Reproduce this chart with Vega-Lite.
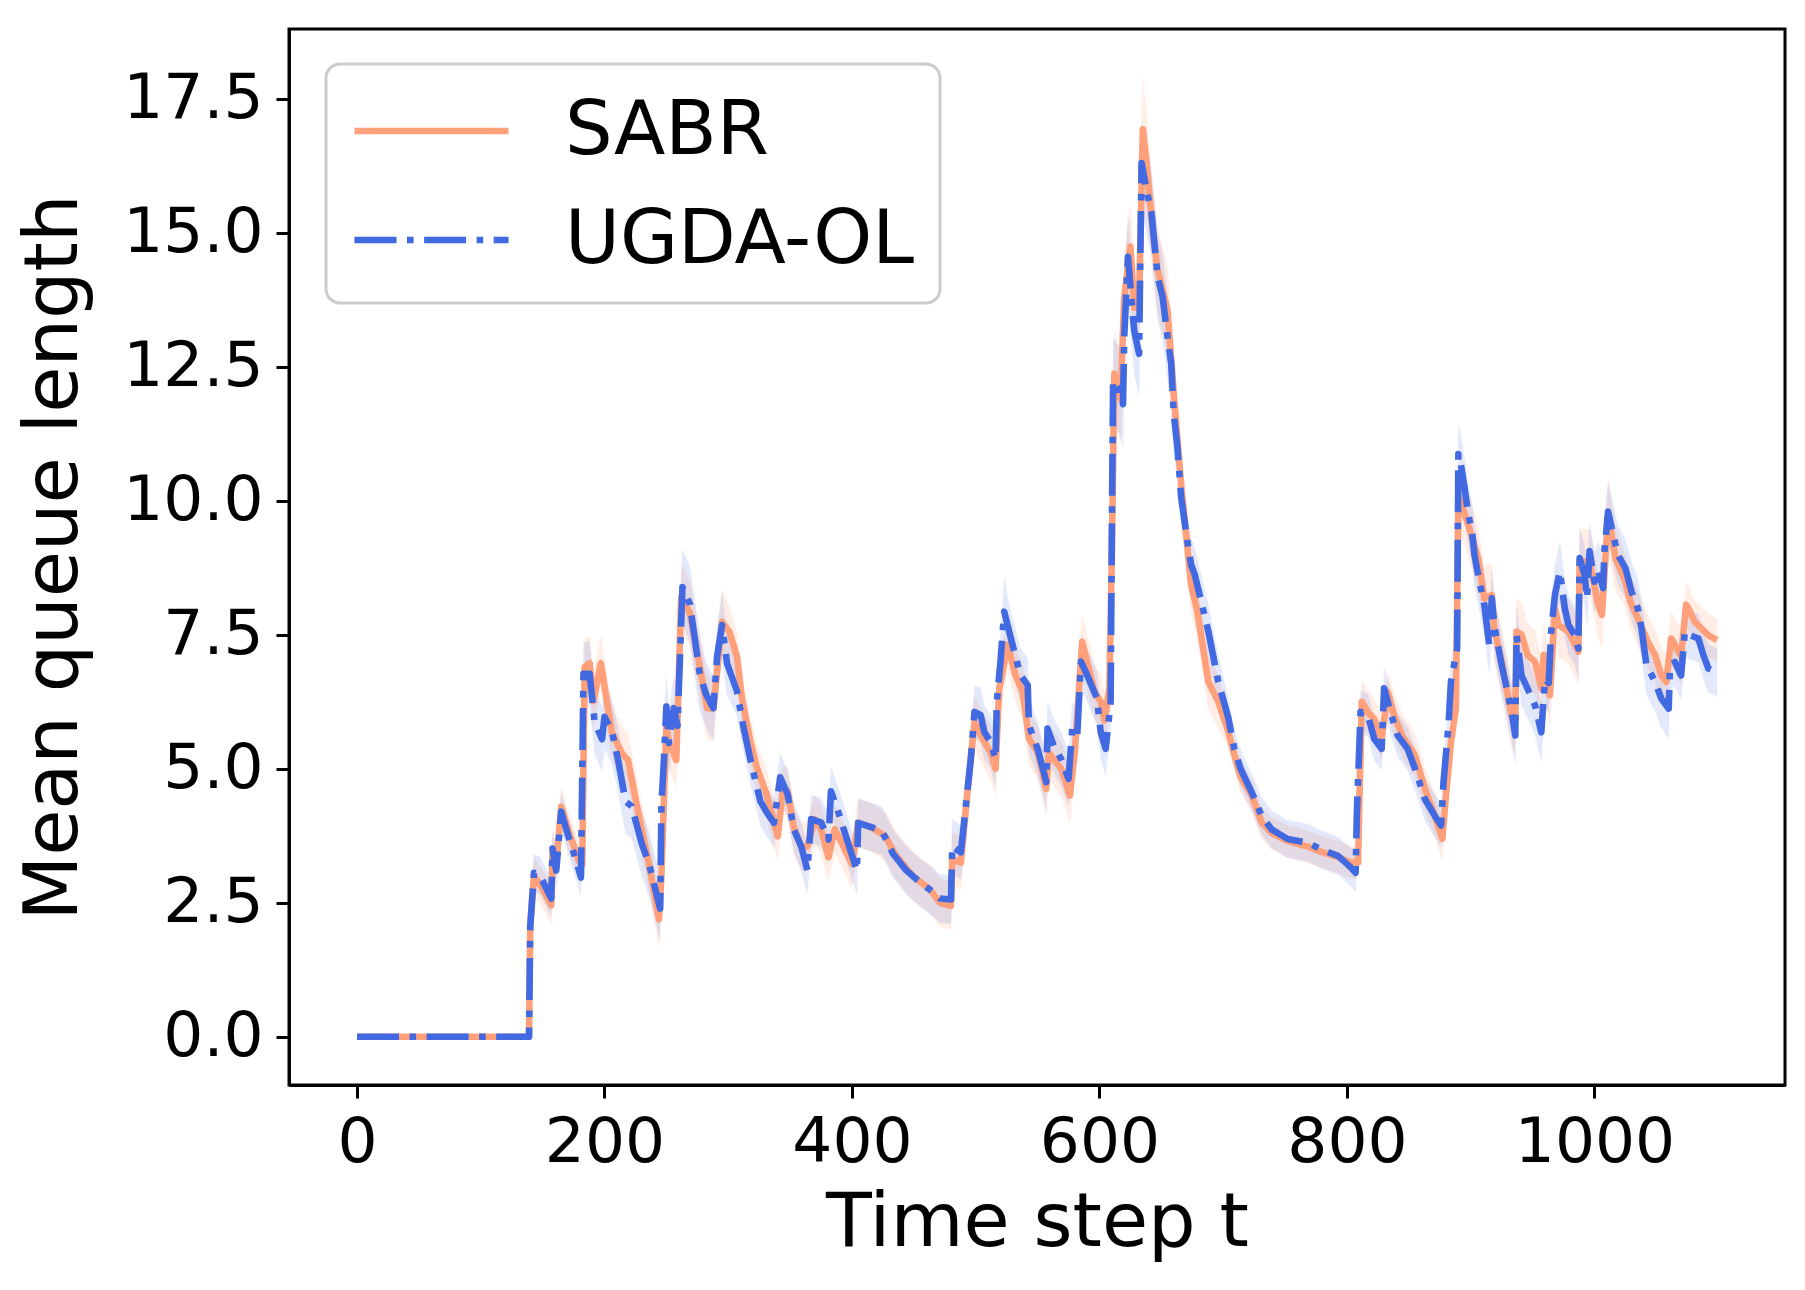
{
  "$schema": "https://vega.github.io/schema/vega-lite/v6.json",
  "description": "Mean queue length over time for SABR and UGDA-OL with shaded spread.",
  "autosize": {"type": "none"},
  "padding": {"left": 289, "top": 29, "right": 20, "bottom": 205},
  "width": 1496,
  "height": 1056,
  "background": "white",
  "data": {
    "values": [
      {"m":"SABR","t":0,"v":0,"lo":0,"hi":0},
      {"m":"SABR","t":139,"v":0,"lo":0,"hi":0},
      {"m":"SABR","t":140,"v":2.06,"lo":1.71,"hi":2.41},
      {"m":"SABR","t":143,"v":3.0,"lo":2.65,"hi":3.35},
      {"m":"SABR","t":149,"v":2.8,"lo":2.45,"hi":3.15},
      {"m":"SABR","t":157,"v":2.45,"lo":2.1,"hi":2.8},
      {"m":"SABR","t":158,"v":3.5,"lo":3.15,"hi":3.85},
      {"m":"SABR","t":161,"v":3.2,"lo":2.85,"hi":3.55},
      {"m":"SABR","t":165,"v":4.29,"lo":3.94,"hi":4.64},
      {"m":"SABR","t":170,"v":3.9,"lo":3.55,"hi":4.25},
      {"m":"SABR","t":179,"v":3.3,"lo":2.95,"hi":3.65},
      {"m":"SABR","t":182,"v":3.2,"lo":2.85,"hi":3.55},
      {"m":"SABR","t":184,"v":6.9,"lo":6.4,"hi":7.4},
      {"m":"SABR","t":188,"v":6.97,"lo":6.47,"hi":7.47},
      {"m":"SABR","t":191,"v":6.26,"lo":5.76,"hi":6.76},
      {"m":"SABR","t":197,"v":6.97,"lo":6.47,"hi":7.47},
      {"m":"SABR","t":206,"v":5.68,"lo":5.18,"hi":6.18},
      {"m":"SABR","t":214,"v":5.29,"lo":4.79,"hi":5.79},
      {"m":"SABR","t":219,"v":5.16,"lo":4.66,"hi":5.66},
      {"m":"SABR","t":225,"v":4.45,"lo":3.95,"hi":4.95},
      {"m":"SABR","t":230,"v":3.87,"lo":3.37,"hi":4.37},
      {"m":"SABR","t":236,"v":3.22,"lo":2.72,"hi":3.72},
      {"m":"SABR","t":244,"v":2.19,"lo":1.69,"hi":2.69},
      {"m":"SABR","t":246,"v":3.0,"lo":2.5,"hi":3.5},
      {"m":"SABR","t":250,"v":5.81,"lo":5.31,"hi":6.31},
      {"m":"SABR","t":252,"v":5.5,"lo":5.0,"hi":6.0},
      {"m":"SABR","t":258,"v":5.16,"lo":4.66,"hi":5.66},
      {"m":"SABR","t":262,"v":8.2,"lo":7.6,"hi":8.8},
      {"m":"SABR","t":269,"v":7.9,"lo":7.3,"hi":8.5},
      {"m":"SABR","t":277,"v":6.9,"lo":6.3,"hi":7.5},
      {"m":"SABR","t":283,"v":6.13,"lo":5.53,"hi":6.73},
      {"m":"SABR","t":288,"v":6.13,"lo":5.53,"hi":6.73},
      {"m":"SABR","t":295,"v":7.74,"lo":7.14,"hi":8.34},
      {"m":"SABR","t":301,"v":7.55,"lo":7.1,"hi":8.0},
      {"m":"SABR","t":307,"v":7.1,"lo":6.65,"hi":7.55},
      {"m":"SABR","t":311,"v":6.32,"lo":5.87,"hi":6.77},
      {"m":"SABR","t":318,"v":5.5,"lo":5.05,"hi":5.95},
      {"m":"SABR","t":323,"v":5.03,"lo":4.58,"hi":5.48},
      {"m":"SABR","t":331,"v":4.52,"lo":4.07,"hi":4.97},
      {"m":"SABR","t":340,"v":3.74,"lo":3.29,"hi":4.19},
      {"m":"SABR","t":344,"v":4.6,"lo":4.15,"hi":5.05},
      {"m":"SABR","t":348,"v":4.58,"lo":4.13,"hi":5.03},
      {"m":"SABR","t":353,"v":3.9,"lo":3.45,"hi":4.35},
      {"m":"SABR","t":359,"v":3.55,"lo":3.1,"hi":4.0},
      {"m":"SABR","t":364,"v":3.55,"lo":3.1,"hi":4.0},
      {"m":"SABR","t":370,"v":4.06,"lo":3.61,"hi":4.51},
      {"m":"SABR","t":375,"v":3.87,"lo":3.42,"hi":4.32},
      {"m":"SABR","t":381,"v":3.35,"lo":2.9,"hi":3.8},
      {"m":"SABR","t":386,"v":3.87,"lo":3.42,"hi":4.32},
      {"m":"SABR","t":389,"v":3.74,"lo":3.29,"hi":4.19},
      {"m":"SABR","t":400,"v":3.22,"lo":2.77,"hi":3.67},
      {"m":"SABR","t":405,"v":3.99,"lo":3.54,"hi":4.44},
      {"m":"SABR","t":416,"v":3.9,"lo":3.45,"hi":4.35},
      {"m":"SABR","t":427,"v":3.74,"lo":3.29,"hi":4.19},
      {"m":"SABR","t":435,"v":3.4,"lo":2.95,"hi":3.85},
      {"m":"SABR","t":449,"v":3.0,"lo":2.55,"hi":3.45},
      {"m":"SABR","t":463,"v":2.75,"lo":2.3,"hi":3.2},
      {"m":"SABR","t":471,"v":2.5,"lo":2.05,"hi":2.95},
      {"m":"SABR","t":480,"v":2.44,"lo":1.99,"hi":2.89},
      {"m":"SABR","t":481,"v":3.31,"lo":2.81,"hi":3.81},
      {"m":"SABR","t":488,"v":3.25,"lo":2.75,"hi":3.75},
      {"m":"SABR","t":493,"v":4.5,"lo":4.0,"hi":5.0},
      {"m":"SABR","t":499,"v":5.87,"lo":5.37,"hi":6.37},
      {"m":"SABR","t":507,"v":5.5,"lo":5.0,"hi":6.0},
      {"m":"SABR","t":512,"v":5.3,"lo":4.8,"hi":5.8},
      {"m":"SABR","t":516,"v":5.0,"lo":4.5,"hi":5.5},
      {"m":"SABR","t":519,"v":6.5,"lo":6.0,"hi":7.0},
      {"m":"SABR","t":526,"v":7.31,"lo":6.81,"hi":7.81},
      {"m":"SABR","t":532,"v":6.75,"lo":6.25,"hi":7.25},
      {"m":"SABR","t":538,"v":6.43,"lo":5.93,"hi":6.93},
      {"m":"SABR","t":543,"v":5.56,"lo":5.06,"hi":6.06},
      {"m":"SABR","t":550,"v":5.31,"lo":4.81,"hi":5.81},
      {"m":"SABR","t":557,"v":4.62,"lo":4.12,"hi":5.12},
      {"m":"SABR","t":559,"v":5.3,"lo":4.8,"hi":5.8},
      {"m":"SABR","t":563,"v":5.18,"lo":4.68,"hi":5.68},
      {"m":"SABR","t":569,"v":5.0,"lo":4.5,"hi":5.5},
      {"m":"SABR","t":576,"v":4.5,"lo":4.0,"hi":5.0},
      {"m":"SABR","t":580,"v":5.3,"lo":4.8,"hi":5.8},
      {"m":"SABR","t":586,"v":7.37,"lo":6.87,"hi":7.87},
      {"m":"SABR","t":596,"v":6.43,"lo":5.93,"hi":6.93},
      {"m":"SABR","t":601,"v":6.25,"lo":5.75,"hi":6.75},
      {"m":"SABR","t":604,"v":5.9,"lo":5.4,"hi":6.4},
      {"m":"SABR","t":608,"v":6.5,"lo":6.0,"hi":7.0},
      {"m":"SABR","t":610,"v":9.0,"lo":8.2,"hi":9.8},
      {"m":"SABR","t":612,"v":12.37,"lo":11.57,"hi":13.17},
      {"m":"SABR","t":617,"v":11.9,"lo":11.1,"hi":12.7},
      {"m":"SABR","t":620,"v":13.8,"lo":13.0,"hi":14.6},
      {"m":"SABR","t":625,"v":14.74,"lo":13.94,"hi":15.54},
      {"m":"SABR","t":628,"v":13.6,"lo":12.8,"hi":14.4},
      {"m":"SABR","t":632,"v":13.68,"lo":12.88,"hi":14.48},
      {"m":"SABR","t":635,"v":16.93,"lo":15.93,"hi":17.93},
      {"m":"SABR","t":638,"v":16.3,"lo":15.4,"hi":17.2},
      {"m":"SABR","t":643,"v":15.05,"lo":14.25,"hi":15.85},
      {"m":"SABR","t":647,"v":14.3,"lo":13.5,"hi":15.1},
      {"m":"SABR","t":655,"v":13.55,"lo":12.75,"hi":14.35},
      {"m":"SABR","t":660,"v":12.0,"lo":11.2,"hi":12.8},
      {"m":"SABR","t":666,"v":10.3,"lo":9.8,"hi":10.8},
      {"m":"SABR","t":674,"v":8.43,"lo":7.93,"hi":8.93},
      {"m":"SABR","t":679,"v":7.94,"lo":7.44,"hi":8.44},
      {"m":"SABR","t":688,"v":6.62,"lo":6.12,"hi":7.12},
      {"m":"SABR","t":696,"v":6.25,"lo":5.75,"hi":6.75},
      {"m":"SABR","t":704,"v":5.7,"lo":5.4,"hi":6.0},
      {"m":"SABR","t":709,"v":5.25,"lo":4.95,"hi":5.55},
      {"m":"SABR","t":714,"v":4.85,"lo":4.55,"hi":5.15},
      {"m":"SABR","t":723,"v":4.5,"lo":4.2,"hi":4.8},
      {"m":"SABR","t":731,"v":4.0,"lo":3.7,"hi":4.3},
      {"m":"SABR","t":739,"v":3.8,"lo":3.5,"hi":4.1},
      {"m":"SABR","t":752,"v":3.65,"lo":3.35,"hi":3.95},
      {"m":"SABR","t":768,"v":3.55,"lo":3.25,"hi":3.85},
      {"m":"SABR","t":779,"v":3.45,"lo":3.15,"hi":3.75},
      {"m":"SABR","t":793,"v":3.35,"lo":3.05,"hi":3.65},
      {"m":"SABR","t":803,"v":3.25,"lo":2.95,"hi":3.55},
      {"m":"SABR","t":809,"v":3.25,"lo":2.95,"hi":3.55},
      {"m":"SABR","t":810,"v":4.4,"lo":4.1,"hi":4.7},
      {"m":"SABR","t":812,"v":6.25,"lo":5.85,"hi":6.65},
      {"m":"SABR","t":817,"v":6.05,"lo":5.65,"hi":6.45},
      {"m":"SABR","t":822,"v":5.93,"lo":5.53,"hi":6.33},
      {"m":"SABR","t":828,"v":5.55,"lo":5.15,"hi":5.95},
      {"m":"SABR","t":833,"v":6.43,"lo":6.03,"hi":6.83},
      {"m":"SABR","t":838,"v":6.0,"lo":5.6,"hi":6.4},
      {"m":"SABR","t":845,"v":5.6,"lo":5.2,"hi":6.0},
      {"m":"SABR","t":855,"v":5.25,"lo":4.85,"hi":5.65},
      {"m":"SABR","t":863,"v":4.62,"lo":4.22,"hi":5.02},
      {"m":"SABR","t":871,"v":4.12,"lo":3.72,"hi":4.52},
      {"m":"SABR","t":877,"v":3.69,"lo":3.29,"hi":4.09},
      {"m":"SABR","t":880,"v":4.5,"lo":4.1,"hi":4.9},
      {"m":"SABR","t":884,"v":5.5,"lo":5.1,"hi":5.9},
      {"m":"SABR","t":888,"v":6.12,"lo":5.72,"hi":6.52},
      {"m":"SABR","t":890,"v":10.1,"lo":9.5,"hi":10.7},
      {"m":"SABR","t":898,"v":9.55,"lo":8.95,"hi":10.15},
      {"m":"SABR","t":906,"v":8.93,"lo":8.33,"hi":9.53},
      {"m":"SABR","t":911,"v":8.18,"lo":7.58,"hi":8.78},
      {"m":"SABR","t":917,"v":8.24,"lo":7.64,"hi":8.84},
      {"m":"SABR","t":919,"v":7.6,"lo":7.0,"hi":8.2},
      {"m":"SABR","t":925,"v":7.0,"lo":6.4,"hi":7.6},
      {"m":"SABR","t":933,"v":5.99,"lo":5.39,"hi":6.59},
      {"m":"SABR","t":936,"v":5.9,"lo":5.3,"hi":6.5},
      {"m":"SABR","t":937,"v":7.56,"lo":6.96,"hi":8.16},
      {"m":"SABR","t":941,"v":7.5,"lo":6.9,"hi":8.1},
      {"m":"SABR","t":946,"v":7.12,"lo":6.52,"hi":7.72},
      {"m":"SABR","t":952,"v":6.99,"lo":6.39,"hi":7.59},
      {"m":"SABR","t":957,"v":6.5,"lo":5.9,"hi":7.1},
      {"m":"SABR","t":959,"v":7.12,"lo":6.52,"hi":7.72},
      {"m":"SABR","t":964,"v":6.37,"lo":5.77,"hi":6.97},
      {"m":"SABR","t":968,"v":7.99,"lo":7.39,"hi":8.59},
      {"m":"SABR","t":971,"v":7.68,"lo":7.08,"hi":8.28},
      {"m":"SABR","t":979,"v":7.56,"lo":6.96,"hi":8.16},
      {"m":"SABR","t":987,"v":7.18,"lo":6.58,"hi":7.78},
      {"m":"SABR","t":988,"v":8.87,"lo":8.27,"hi":9.47},
      {"m":"SABR","t":996,"v":8.87,"lo":8.27,"hi":9.47},
      {"m":"SABR","t":1003,"v":8.06,"lo":7.46,"hi":8.66},
      {"m":"SABR","t":1006,"v":7.87,"lo":7.27,"hi":8.47},
      {"m":"SABR","t":1011,"v":9.74,"lo":9.04,"hi":10.44},
      {"m":"SABR","t":1017,"v":8.93,"lo":8.33,"hi":9.53},
      {"m":"SABR","t":1025,"v":8.49,"lo":7.99,"hi":8.99},
      {"m":"SABR","t":1029,"v":8.12,"lo":7.62,"hi":8.62},
      {"m":"SABR","t":1035,"v":7.81,"lo":7.31,"hi":8.31},
      {"m":"SABR","t":1043,"v":7.37,"lo":6.87,"hi":7.87},
      {"m":"SABR","t":1049,"v":7.12,"lo":6.62,"hi":7.62},
      {"m":"SABR","t":1054,"v":6.74,"lo":6.24,"hi":7.24},
      {"m":"SABR","t":1058,"v":6.62,"lo":6.12,"hi":7.12},
      {"m":"SABR","t":1062,"v":7.43,"lo":6.93,"hi":7.93},
      {"m":"SABR","t":1068,"v":7.18,"lo":6.68,"hi":7.68},
      {"m":"SABR","t":1070,"v":7.1,"lo":6.6,"hi":7.6},
      {"m":"SABR","t":1074,"v":8.06,"lo":7.66,"hi":8.46},
      {"m":"SABR","t":1076,"v":7.99,"lo":7.59,"hi":8.39},
      {"m":"SABR","t":1081,"v":7.74,"lo":7.34,"hi":8.14},
      {"m":"SABR","t":1092,"v":7.49,"lo":7.09,"hi":7.89},
      {"m":"SABR","t":1099,"v":7.4,"lo":7.0,"hi":7.8},
      {"m":"UGDA-OL","t":0,"v":0,"lo":0,"hi":0},
      {"m":"UGDA-OL","t":139,"v":0,"lo":0,"hi":0},
      {"m":"UGDA-OL","t":140,"v":2.06,"lo":1.71,"hi":2.41},
      {"m":"UGDA-OL","t":143,"v":3.06,"lo":2.71,"hi":3.41},
      {"m":"UGDA-OL","t":148,"v":3.0,"lo":2.65,"hi":3.35},
      {"m":"UGDA-OL","t":157,"v":2.58,"lo":2.23,"hi":2.93},
      {"m":"UGDA-OL","t":158,"v":3.51,"lo":3.16,"hi":3.86},
      {"m":"UGDA-OL","t":161,"v":3.1,"lo":2.75,"hi":3.45},
      {"m":"UGDA-OL","t":165,"v":4.2,"lo":3.85,"hi":4.55},
      {"m":"UGDA-OL","t":170,"v":3.8,"lo":3.45,"hi":4.15},
      {"m":"UGDA-OL","t":178,"v":3.22,"lo":2.87,"hi":3.57},
      {"m":"UGDA-OL","t":181,"v":2.97,"lo":2.62,"hi":3.32},
      {"m":"UGDA-OL","t":183,"v":6.77,"lo":6.17,"hi":7.37},
      {"m":"UGDA-OL","t":188,"v":6.77,"lo":6.17,"hi":7.37},
      {"m":"UGDA-OL","t":192,"v":5.87,"lo":5.27,"hi":6.47},
      {"m":"UGDA-OL","t":198,"v":5.55,"lo":4.95,"hi":6.15},
      {"m":"UGDA-OL","t":200,"v":5.97,"lo":5.37,"hi":6.57},
      {"m":"UGDA-OL","t":206,"v":5.7,"lo":5.1,"hi":6.3},
      {"m":"UGDA-OL","t":211,"v":5.16,"lo":4.56,"hi":5.76},
      {"m":"UGDA-OL","t":217,"v":4.39,"lo":3.79,"hi":4.99},
      {"m":"UGDA-OL","t":222,"v":4.3,"lo":3.7,"hi":4.9},
      {"m":"UGDA-OL","t":230,"v":3.61,"lo":3.01,"hi":4.21},
      {"m":"UGDA-OL","t":236,"v":3.22,"lo":2.62,"hi":3.82},
      {"m":"UGDA-OL","t":245,"v":2.39,"lo":1.79,"hi":2.99},
      {"m":"UGDA-OL","t":246,"v":4.32,"lo":3.72,"hi":4.92},
      {"m":"UGDA-OL","t":248,"v":5.16,"lo":4.56,"hi":5.76},
      {"m":"UGDA-OL","t":250,"v":6.16,"lo":5.56,"hi":6.76},
      {"m":"UGDA-OL","t":252,"v":5.48,"lo":4.88,"hi":6.08},
      {"m":"UGDA-OL","t":256,"v":6.13,"lo":5.53,"hi":6.73},
      {"m":"UGDA-OL","t":259,"v":5.8,"lo":5.2,"hi":6.4},
      {"m":"UGDA-OL","t":263,"v":8.39,"lo":7.69,"hi":9.09},
      {"m":"UGDA-OL","t":269,"v":8.07,"lo":7.37,"hi":8.77},
      {"m":"UGDA-OL","t":273,"v":7.42,"lo":6.72,"hi":8.12},
      {"m":"UGDA-OL","t":277,"v":6.77,"lo":6.07,"hi":7.47},
      {"m":"UGDA-OL","t":282,"v":6.39,"lo":5.79,"hi":6.99},
      {"m":"UGDA-OL","t":288,"v":6.13,"lo":5.53,"hi":6.73},
      {"m":"UGDA-OL","t":291,"v":7.1,"lo":6.5,"hi":7.7},
      {"m":"UGDA-OL","t":295,"v":7.68,"lo":7.08,"hi":8.28},
      {"m":"UGDA-OL","t":299,"v":6.97,"lo":6.37,"hi":7.57},
      {"m":"UGDA-OL","t":307,"v":6.45,"lo":6.0,"hi":6.9},
      {"m":"UGDA-OL","t":312,"v":5.81,"lo":5.36,"hi":6.26},
      {"m":"UGDA-OL","t":318,"v":5.16,"lo":4.71,"hi":5.61},
      {"m":"UGDA-OL","t":326,"v":4.39,"lo":3.94,"hi":4.84},
      {"m":"UGDA-OL","t":331,"v":4.19,"lo":3.74,"hi":4.64},
      {"m":"UGDA-OL","t":337,"v":3.99,"lo":3.54,"hi":4.44},
      {"m":"UGDA-OL","t":342,"v":4.84,"lo":4.39,"hi":5.29},
      {"m":"UGDA-OL","t":348,"v":4.52,"lo":4.07,"hi":4.97},
      {"m":"UGDA-OL","t":353,"v":3.87,"lo":3.42,"hi":4.32},
      {"m":"UGDA-OL","t":359,"v":3.55,"lo":3.1,"hi":4.0},
      {"m":"UGDA-OL","t":364,"v":3.1,"lo":2.65,"hi":3.55},
      {"m":"UGDA-OL","t":367,"v":4.06,"lo":3.61,"hi":4.51},
      {"m":"UGDA-OL","t":375,"v":4.0,"lo":3.55,"hi":4.45},
      {"m":"UGDA-OL","t":381,"v":3.68,"lo":3.23,"hi":4.13},
      {"m":"UGDA-OL","t":383,"v":4.58,"lo":4.13,"hi":5.03},
      {"m":"UGDA-OL","t":389,"v":4.19,"lo":3.74,"hi":4.64},
      {"m":"UGDA-OL","t":397,"v":3.6,"lo":3.15,"hi":4.05},
      {"m":"UGDA-OL","t":404,"v":3.1,"lo":2.65,"hi":3.55},
      {"m":"UGDA-OL","t":405,"v":3.99,"lo":3.54,"hi":4.44},
      {"m":"UGDA-OL","t":424,"v":3.85,"lo":3.4,"hi":4.3},
      {"m":"UGDA-OL","t":433,"v":3.42,"lo":2.97,"hi":3.87},
      {"m":"UGDA-OL","t":444,"v":3.1,"lo":2.65,"hi":3.55},
      {"m":"UGDA-OL","t":457,"v":2.84,"lo":2.39,"hi":3.29},
      {"m":"UGDA-OL","t":465,"v":2.71,"lo":2.26,"hi":3.16},
      {"m":"UGDA-OL","t":471,"v":2.58,"lo":2.13,"hi":3.03},
      {"m":"UGDA-OL","t":480,"v":2.56,"lo":2.11,"hi":3.01},
      {"m":"UGDA-OL","t":481,"v":3.56,"lo":3.06,"hi":4.06},
      {"m":"UGDA-OL","t":488,"v":3.44,"lo":2.94,"hi":3.94},
      {"m":"UGDA-OL","t":492,"v":4.31,"lo":3.81,"hi":4.81},
      {"m":"UGDA-OL","t":496,"v":5.18,"lo":4.68,"hi":5.68},
      {"m":"UGDA-OL","t":499,"v":6.06,"lo":5.56,"hi":6.56},
      {"m":"UGDA-OL","t":504,"v":6.0,"lo":5.5,"hi":6.5},
      {"m":"UGDA-OL","t":507,"v":5.68,"lo":5.18,"hi":6.18},
      {"m":"UGDA-OL","t":512,"v":5.5,"lo":5.0,"hi":6.0},
      {"m":"UGDA-OL","t":516,"v":5.18,"lo":4.68,"hi":5.68},
      {"m":"UGDA-OL","t":517,"v":6.25,"lo":5.75,"hi":6.75},
      {"m":"UGDA-OL","t":520,"v":7.0,"lo":6.5,"hi":7.5},
      {"m":"UGDA-OL","t":523,"v":7.93,"lo":7.28,"hi":8.58},
      {"m":"UGDA-OL","t":527,"v":7.56,"lo":7.06,"hi":8.06},
      {"m":"UGDA-OL","t":531,"v":7.2,"lo":6.7,"hi":7.7},
      {"m":"UGDA-OL","t":536,"v":6.75,"lo":6.25,"hi":7.25},
      {"m":"UGDA-OL","t":542,"v":6.56,"lo":6.06,"hi":7.06},
      {"m":"UGDA-OL","t":543,"v":5.81,"lo":5.31,"hi":6.31},
      {"m":"UGDA-OL","t":550,"v":5.37,"lo":4.87,"hi":5.87},
      {"m":"UGDA-OL","t":555,"v":4.93,"lo":4.43,"hi":5.43},
      {"m":"UGDA-OL","t":557,"v":4.75,"lo":4.25,"hi":5.25},
      {"m":"UGDA-OL","t":558,"v":5.75,"lo":5.25,"hi":6.25},
      {"m":"UGDA-OL","t":563,"v":5.43,"lo":4.93,"hi":5.93},
      {"m":"UGDA-OL","t":569,"v":5.18,"lo":4.68,"hi":5.68},
      {"m":"UGDA-OL","t":575,"v":4.81,"lo":4.31,"hi":5.31},
      {"m":"UGDA-OL","t":578,"v":5.75,"lo":5.25,"hi":6.25},
      {"m":"UGDA-OL","t":582,"v":5.62,"lo":5.12,"hi":6.12},
      {"m":"UGDA-OL","t":585,"v":7.0,"lo":6.5,"hi":7.5},
      {"m":"UGDA-OL","t":590,"v":6.75,"lo":6.25,"hi":7.25},
      {"m":"UGDA-OL","t":598,"v":6.31,"lo":5.81,"hi":6.81},
      {"m":"UGDA-OL","t":601,"v":5.68,"lo":5.18,"hi":6.18},
      {"m":"UGDA-OL","t":605,"v":5.37,"lo":4.87,"hi":5.87},
      {"m":"UGDA-OL","t":609,"v":6.25,"lo":5.75,"hi":6.75},
      {"m":"UGDA-OL","t":610,"v":9.5,"lo":8.7,"hi":10.3},
      {"m":"UGDA-OL","t":611,"v":12.24,"lo":11.44,"hi":13.04},
      {"m":"UGDA-OL","t":616,"v":12.06,"lo":11.26,"hi":12.86},
      {"m":"UGDA-OL","t":619,"v":11.8,"lo":11.0,"hi":12.6},
      {"m":"UGDA-OL","t":620,"v":13.06,"lo":12.26,"hi":13.86},
      {"m":"UGDA-OL","t":623,"v":14.55,"lo":13.75,"hi":15.35},
      {"m":"UGDA-OL","t":625,"v":14.0,"lo":13.2,"hi":14.8},
      {"m":"UGDA-OL","t":628,"v":13.18,"lo":12.38,"hi":13.98},
      {"m":"UGDA-OL","t":632,"v":12.74,"lo":11.94,"hi":13.54},
      {"m":"UGDA-OL","t":634,"v":16.3,"lo":15.5,"hi":17.1},
      {"m":"UGDA-OL","t":638,"v":15.8,"lo":15.0,"hi":16.6},
      {"m":"UGDA-OL","t":642,"v":15.37,"lo":14.57,"hi":16.17},
      {"m":"UGDA-OL","t":647,"v":14.18,"lo":13.38,"hi":14.98},
      {"m":"UGDA-OL","t":651,"v":13.8,"lo":13.0,"hi":14.6},
      {"m":"UGDA-OL","t":655,"v":13.06,"lo":12.26,"hi":13.86},
      {"m":"UGDA-OL","t":658,"v":12.55,"lo":11.75,"hi":13.35},
      {"m":"UGDA-OL","t":660,"v":11.62,"lo":10.82,"hi":12.42},
      {"m":"UGDA-OL","t":663,"v":11.0,"lo":10.5,"hi":11.5},
      {"m":"UGDA-OL","t":666,"v":10.06,"lo":9.56,"hi":10.56},
      {"m":"UGDA-OL","t":671,"v":9.25,"lo":8.75,"hi":9.75},
      {"m":"UGDA-OL","t":674,"v":8.81,"lo":8.31,"hi":9.31},
      {"m":"UGDA-OL","t":677,"v":8.62,"lo":8.12,"hi":9.12},
      {"m":"UGDA-OL","t":688,"v":7.56,"lo":7.06,"hi":8.06},
      {"m":"UGDA-OL","t":696,"v":6.62,"lo":6.12,"hi":7.12},
      {"m":"UGDA-OL","t":704,"v":5.96,"lo":5.61,"hi":6.31},
      {"m":"UGDA-OL","t":709,"v":5.37,"lo":5.02,"hi":5.72},
      {"m":"UGDA-OL","t":714,"v":5.0,"lo":4.65,"hi":5.35},
      {"m":"UGDA-OL","t":723,"v":4.56,"lo":4.21,"hi":4.91},
      {"m":"UGDA-OL","t":731,"v":4.12,"lo":3.77,"hi":4.47},
      {"m":"UGDA-OL","t":739,"v":3.87,"lo":3.52,"hi":4.22},
      {"m":"UGDA-OL","t":752,"v":3.69,"lo":3.34,"hi":4.04},
      {"m":"UGDA-OL","t":768,"v":3.62,"lo":3.27,"hi":3.97},
      {"m":"UGDA-OL","t":779,"v":3.5,"lo":3.15,"hi":3.85},
      {"m":"UGDA-OL","t":793,"v":3.37,"lo":3.02,"hi":3.72},
      {"m":"UGDA-OL","t":803,"v":3.16,"lo":2.81,"hi":3.51},
      {"m":"UGDA-OL","t":807,"v":3.06,"lo":2.71,"hi":3.41},
      {"m":"UGDA-OL","t":808,"v":4.19,"lo":3.79,"hi":4.59},
      {"m":"UGDA-OL","t":811,"v":6.06,"lo":5.66,"hi":6.46},
      {"m":"UGDA-OL","t":817,"v":5.99,"lo":5.59,"hi":6.39},
      {"m":"UGDA-OL","t":822,"v":5.56,"lo":5.16,"hi":5.96},
      {"m":"UGDA-OL","t":828,"v":5.37,"lo":4.97,"hi":5.77},
      {"m":"UGDA-OL","t":830,"v":6.5,"lo":6.1,"hi":6.9},
      {"m":"UGDA-OL","t":836,"v":5.99,"lo":5.59,"hi":6.39},
      {"m":"UGDA-OL","t":841,"v":5.62,"lo":5.22,"hi":6.02},
      {"m":"UGDA-OL","t":849,"v":5.37,"lo":4.97,"hi":5.77},
      {"m":"UGDA-OL","t":855,"v":5.0,"lo":4.6,"hi":5.4},
      {"m":"UGDA-OL","t":863,"v":4.43,"lo":4.03,"hi":4.83},
      {"m":"UGDA-OL","t":871,"v":4.12,"lo":3.72,"hi":4.52},
      {"m":"UGDA-OL","t":876,"v":3.94,"lo":3.54,"hi":4.34},
      {"m":"UGDA-OL","t":878,"v":4.75,"lo":4.35,"hi":5.15},
      {"m":"UGDA-OL","t":882,"v":5.81,"lo":5.41,"hi":6.21},
      {"m":"UGDA-OL","t":884,"v":6.62,"lo":6.22,"hi":7.02},
      {"m":"UGDA-OL","t":889,"v":7.24,"lo":6.84,"hi":7.64},
      {"m":"UGDA-OL","t":890,"v":10.87,"lo":10.32,"hi":11.42},
      {"m":"UGDA-OL","t":892,"v":10.68,"lo":10.13,"hi":11.23},
      {"m":"UGDA-OL","t":895,"v":10.24,"lo":9.69,"hi":10.79},
      {"m":"UGDA-OL","t":898,"v":9.74,"lo":9.19,"hi":10.29},
      {"m":"UGDA-OL","t":901,"v":9.43,"lo":8.88,"hi":9.98},
      {"m":"UGDA-OL","t":903,"v":8.99,"lo":8.44,"hi":9.54},
      {"m":"UGDA-OL","t":907,"v":8.49,"lo":7.94,"hi":9.04},
      {"m":"UGDA-OL","t":911,"v":8.06,"lo":7.51,"hi":8.61},
      {"m":"UGDA-OL","t":914,"v":7.49,"lo":6.94,"hi":8.04},
      {"m":"UGDA-OL","t":915,"v":7.3,"lo":6.75,"hi":7.85},
      {"m":"UGDA-OL","t":917,"v":8.18,"lo":7.63,"hi":8.73},
      {"m":"UGDA-OL","t":919,"v":7.68,"lo":7.13,"hi":8.23},
      {"m":"UGDA-OL","t":925,"v":6.93,"lo":6.38,"hi":7.48},
      {"m":"UGDA-OL","t":928,"v":6.62,"lo":6.07,"hi":7.17},
      {"m":"UGDA-OL","t":933,"v":6.06,"lo":5.51,"hi":6.61},
      {"m":"UGDA-OL","t":936,"v":5.62,"lo":5.07,"hi":6.17},
      {"m":"UGDA-OL","t":937,"v":7.49,"lo":6.94,"hi":8.04},
      {"m":"UGDA-OL","t":941,"v":6.74,"lo":6.19,"hi":7.29},
      {"m":"UGDA-OL","t":946,"v":6.49,"lo":5.94,"hi":7.04},
      {"m":"UGDA-OL","t":952,"v":6.18,"lo":5.63,"hi":6.73},
      {"m":"UGDA-OL","t":957,"v":5.68,"lo":5.13,"hi":6.23},
      {"m":"UGDA-OL","t":960,"v":6.68,"lo":6.13,"hi":7.23},
      {"m":"UGDA-OL","t":963,"v":6.6,"lo":6.05,"hi":7.15},
      {"m":"UGDA-OL","t":965,"v":7.56,"lo":7.01,"hi":8.11},
      {"m":"UGDA-OL","t":968,"v":8.24,"lo":7.69,"hi":8.79},
      {"m":"UGDA-OL","t":972,"v":8.68,"lo":8.13,"hi":9.23},
      {"m":"UGDA-OL","t":976,"v":7.99,"lo":7.44,"hi":8.54},
      {"m":"UGDA-OL","t":979,"v":7.68,"lo":7.13,"hi":8.23},
      {"m":"UGDA-OL","t":984,"v":7.49,"lo":6.94,"hi":8.04},
      {"m":"UGDA-OL","t":987,"v":7.24,"lo":6.69,"hi":7.79},
      {"m":"UGDA-OL","t":988,"v":8.93,"lo":8.38,"hi":9.48},
      {"m":"UGDA-OL","t":992,"v":8.62,"lo":8.07,"hi":9.17},
      {"m":"UGDA-OL","t":994,"v":8.18,"lo":7.63,"hi":8.73},
      {"m":"UGDA-OL","t":996,"v":9.06,"lo":8.51,"hi":9.61},
      {"m":"UGDA-OL","t":1000,"v":8.49,"lo":7.94,"hi":9.04},
      {"m":"UGDA-OL","t":1003,"v":8.68,"lo":8.13,"hi":9.23},
      {"m":"UGDA-OL","t":1007,"v":8.37,"lo":7.82,"hi":8.92},
      {"m":"UGDA-OL","t":1008,"v":9.06,"lo":8.51,"hi":9.61},
      {"m":"UGDA-OL","t":1011,"v":9.8,"lo":9.25,"hi":10.35},
      {"m":"UGDA-OL","t":1015,"v":9.37,"lo":8.82,"hi":9.92},
      {"m":"UGDA-OL","t":1019,"v":8.99,"lo":8.44,"hi":9.54},
      {"m":"UGDA-OL","t":1025,"v":8.74,"lo":8.19,"hi":9.29},
      {"m":"UGDA-OL","t":1030,"v":8.3,"lo":7.75,"hi":8.85},
      {"m":"UGDA-OL","t":1035,"v":7.99,"lo":7.44,"hi":8.54},
      {"m":"UGDA-OL","t":1038,"v":7.62,"lo":7.07,"hi":8.17},
      {"m":"UGDA-OL","t":1042,"v":6.93,"lo":6.38,"hi":7.48},
      {"m":"UGDA-OL","t":1049,"v":6.62,"lo":6.07,"hi":7.17},
      {"m":"UGDA-OL","t":1054,"v":6.31,"lo":5.76,"hi":6.86},
      {"m":"UGDA-OL","t":1060,"v":6.12,"lo":5.57,"hi":6.67},
      {"m":"UGDA-OL","t":1061,"v":6.93,"lo":6.48,"hi":7.38},
      {"m":"UGDA-OL","t":1065,"v":6.99,"lo":6.54,"hi":7.44},
      {"m":"UGDA-OL","t":1070,"v":6.74,"lo":6.29,"hi":7.19},
      {"m":"UGDA-OL","t":1073,"v":7.56,"lo":7.11,"hi":8.01},
      {"m":"UGDA-OL","t":1076,"v":7.5,"lo":7.05,"hi":7.95},
      {"m":"UGDA-OL","t":1084,"v":7.43,"lo":6.98,"hi":7.88},
      {"m":"UGDA-OL","t":1088,"v":7.12,"lo":6.67,"hi":7.57},
      {"m":"UGDA-OL","t":1092,"v":6.87,"lo":6.42,"hi":7.32},
      {"m":"UGDA-OL","t":1099,"v":6.8,"lo":6.35,"hi":7.25}
    ]
  },
  "encoding": {
    "x": {
      "field": "t",
      "type": "quantitative",
      "title": "Time step t",
      "scale": {"domain": [-54.95, 1153.95], "nice": false, "zero": false},
      "axis": {"values": [0, 200, 400, 600, 800, 1000], "format": "d", "titlePadding": 12}
    }
  },
  "layer": [
    {
      "transform": [{"filter": "datum.m === 'SABR'"}],
      "mark": {"type": "area", "color": "#FFA07A", "opacity": 0.18, "stroke": "#FFA07A", "strokeWidth": 2.5, "strokeOpacity": 0.12},
      "encoding": {
        "y": {"field": "lo", "type": "quantitative"},
        "y2": {"field": "hi"}
      }
    },
    {
      "transform": [{"filter": "datum.m === 'UGDA-OL'"}],
      "mark": {"type": "area", "color": "#4169E1", "opacity": 0.14, "stroke": "#4169E1", "strokeWidth": 2.5, "strokeOpacity": 0.1},
      "encoding": {
        "y": {"field": "lo", "type": "quantitative"},
        "y2": {"field": "hi"}
      }
    },
    {
      "mark": {"type": "line", "strokeWidth": 6.6, "strokeCap": "butt", "strokeJoin": "round"},
      "encoding": {
        "y": {
          "field": "v",
          "type": "quantitative",
          "title": "Mean queue length",
          "scale": {"domain": [-0.9, 18.8], "nice": false, "zero": false},
          "axis": {"values": [0, 2.5, 5, 7.5, 10, 12.5, 15, 17.5], "format": ".1f", "titlePadding": 30}
        },
        "color": {
          "field": "m",
          "type": "nominal",
          "title": null,
          "scale": {"domain": ["SABR", "UGDA-OL"], "range": ["#FFA07A", "#4169E1"]},
          "legend": {
            "orient": "none",
            "legendX": 37,
            "legendY": 35,
            "padding": 25,
            "fillColor": "rgba(255,255,255,0.8)",
            "strokeColor": "#cccccc",
            "cornerRadius": 14,
            "symbolType": "M-1,0H3",
            "symbolSize": 5929,
            "symbolStrokeWidth": 6.6,
            "labelFont": "DejaVu Sans",
            "labelFontSize": 75,
            "labelColor": "black",
            "labelOffset": 130,
            "labelLimit": 800,
            "rowPadding": 29
          }
        },
        "strokeDash": {
          "field": "m",
          "type": "nominal",
          "title": null,
          "scale": {"domain": ["SABR", "UGDA-OL"], "range": [[1, 0], [42, 10.5, 6.6, 10.5]]}
        }
      }
    }
  ],
  "config": {
    "font": "DejaVu Sans",
    "view": {"stroke": "black", "strokeWidth": 3},
    "axis": {
      "grid": false,
      "domainColor": "black",
      "domainWidth": 3,
      "tickColor": "black",
      "tickWidth": 3,
      "tickSize": 13,
      "labelFont": "DejaVu Sans",
      "labelFontSize": 63,
      "labelColor": "black",
      "labelPadding": 13,
      "titleFont": "DejaVu Sans",
      "titleFontSize": 75,
      "titleFontWeight": "normal",
      "titleColor": "black",
      "labelFlush": false,
      "labelOverlap": false
    },
    "legend": {
      "strokeWidth": 3
    }
  }
}
